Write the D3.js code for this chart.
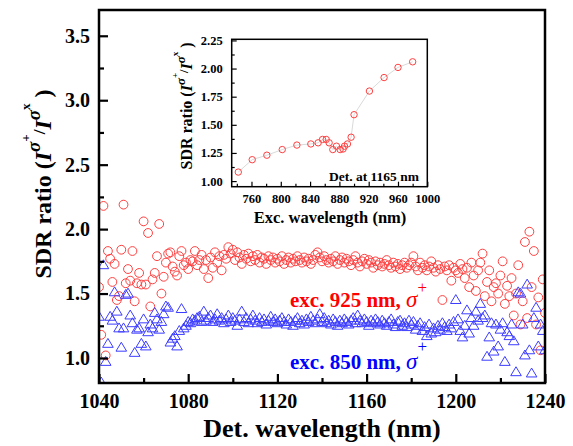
<!DOCTYPE html>
<html>
<head>
<meta charset="utf-8">
<script src="https://cdn.jsdelivr.net/npm/d3@7"></script>
<style>
   body { margin: 0; background: #fff; }
   text { font-family: "Liberation Serif", "Times New Roman", serif; font-weight: bold; }
</style>
</head>
<body>
<div id="chart"></div>
<script>
// detection wavelength (nm) shared by both main series
const detWavelength = [
   1040, 1041, 1042, 1043, 1044, 1045, 1046, 1047, 1048, 1049,
   1050, 1051, 1052, 1053, 1054, 1055, 1056, 1057, 1058, 1059,
   1060, 1061, 1062, 1063, 1064, 1065, 1066, 1067, 1068, 1069,
   1070, 1071, 1072, 1073, 1074, 1075, 1076, 1077, 1078, 1079,
   1080, 1081, 1082, 1083, 1084, 1085, 1086, 1087, 1088, 1089,
   1090, 1091, 1092, 1093, 1094, 1095, 1096, 1097, 1098, 1099,
   1100, 1101, 1102, 1103, 1104, 1105, 1106, 1107, 1108, 1109,
   1110, 1111, 1112, 1113, 1114, 1115, 1116, 1117, 1118, 1119,
   1120, 1121, 1122, 1123, 1124, 1125, 1126, 1127, 1128, 1129,
   1130, 1131, 1132, 1133, 1134, 1135, 1136, 1137, 1138, 1139,
   1140, 1141, 1142, 1143, 1144, 1145, 1146, 1147, 1148, 1149,
   1150, 1151, 1152, 1153, 1154, 1155, 1156, 1157, 1158, 1159,
   1160, 1161, 1162, 1163, 1164, 1165, 1166, 1167, 1168, 1169,
   1170, 1171, 1172, 1173, 1174, 1175, 1176, 1177, 1178, 1179,
   1180, 1181, 1182, 1183, 1184, 1185, 1186, 1187, 1188, 1189,
   1190, 1191, 1192, 1193, 1194, 1195, 1196, 1197, 1198, 1199,
   1200, 1201, 1202, 1203, 1204, 1205, 1206, 1207, 1208, 1209,
   1210, 1211, 1212, 1213, 1214, 1215, 1216, 1217, 1218, 1219,
   1220, 1221, 1222, 1223, 1224, 1225, 1226, 1227, 1228, 1229,
   1230, 1231, 1232, 1233, 1234, 1235, 1236, 1237, 1238, 1239,
   1240
];

// exc. 925 nm, sigma+ (red circles)
const sdr925 = [
   1.55, 1.18, 2.18, 1.02, 1.83, 1.77, 1.59, 1.73, 1.45, 1.48,
   1.84, 2.19, 1.58, 1.69, 1.60, 1.83, 1.44, 1.58, 1.66, 1.57,
   2.06, 1.57, 1.97, 1.40, 1.61, 1.66, 1.79, 2.04, 1.50, 1.63,
   1.74, 1.81, 1.82, 1.71, 1.67, 1.64, 1.79, 1.83, 1.72, 1.74,
   1.69, 1.76, 1.75, 1.83, 1.72, 1.76, 1.80, 1.69, 1.76, 1.62,
   1.78, 1.70, 1.82, 1.74, 1.79, 1.68, 1.80, 1.77, 1.86, 1.81,
   1.84, 1.76, 1.82, 1.78, 1.73, 1.80, 1.77, 1.81, 1.75, 1.79,
   1.76, 1.80, 1.74, 1.78, 1.77, 1.73, 1.79, 1.76, 1.78, 1.74,
   1.77, 1.75, 1.79, 1.73, 1.76, 1.78, 1.74, 1.77, 1.75, 1.79,
   1.76, 1.74, 1.78, 1.75, 1.77, 1.73, 1.76, 1.80, 1.82, 1.78,
   1.75, 1.79, 1.76, 1.74, 1.77, 1.75, 1.79, 1.73, 1.76, 1.78,
   1.74, 1.77, 1.75, 1.72, 1.76, 1.79, 1.74, 1.71, 1.75, 1.77,
   1.73, 1.76, 1.74, 1.70, 1.75, 1.72, 1.74, 1.71, 1.73, 1.76,
   1.72, 1.70, 1.74, 1.71, 1.73, 1.69, 1.72, 1.74, 1.70, 1.72,
   1.74, 1.79, 1.71, 1.68, 1.74, 1.70, 1.72, 1.68, 1.71, 1.75,
   1.70, 1.67, 1.72, 1.69, 1.45, 1.71, 1.68, 1.72, 1.60, 1.70,
   1.68, 1.66, 1.73, 1.69, 1.62, 1.70, 1.55, 1.74, 1.64, 1.52,
   1.68, 1.74, 1.81, 1.48, 1.59, 1.68, 1.44, 1.55, 1.58, 1.50,
   1.64, 1.75, 1.42, 1.56, 1.48, 1.62, 1.33, 1.50, 1.72, 1.26,
   1.44, 1.90, 1.31, 1.98, 1.55, 1.83, 1.26, 1.47, 1.06, 1.61,
   1.35
];

// exc. 850 nm, sigma+ (blue triangles)
const sdr850 = [
   1.32, 0.81, 1.72, 0.97, 1.11, 1.32, 1.29, 1.51, 1.36, 1.23,
   1.08, 1.23, 1.49, 1.50, 1.33, 1.27, 1.04, 1.22, 1.23, 1.11,
   1.30, 1.09, 1.20, 1.26, 1.23, 1.35, 1.30, 1.22, 1.28, 1.34,
   1.40, 1.39, 1.12, 1.15, 1.17, 1.09, 1.21, 1.38, 1.23, 1.25,
   1.28, 1.27, 1.30, 1.29, 1.31, 1.32, 1.28, 1.36, 1.29, 1.31,
   1.33, 1.28, 1.30, 1.34, 1.29, 1.31, 1.27, 1.30, 1.33, 1.28,
   1.31, 1.29, 1.25, 1.30, 1.36, 1.28, 1.31, 1.27, 1.30, 1.33,
   1.29, 1.27, 1.31, 1.28, 1.30, 1.26, 1.29, 1.32, 1.28, 1.30,
   1.27, 1.29, 1.31, 1.28, 1.26, 1.30, 1.28, 1.25, 1.29, 1.31,
   1.27, 1.29, 1.26, 1.30, 1.28, 1.32, 1.29, 1.27, 1.30, 1.34,
   1.28, 1.31, 1.27, 1.29, 1.26, 1.30, 1.28, 1.25, 1.29, 1.27,
   1.30, 1.28, 1.26, 1.29, 1.31, 1.27, 1.33, 1.29, 1.27, 1.30,
   1.28, 1.25, 1.29, 1.27, 1.30, 1.28, 1.26, 1.29, 1.27, 1.25,
   1.28, 1.30, 1.26, 1.24, 1.28, 1.29, 1.25, 1.27, 1.24, 1.29,
   1.26, 1.28, 1.22, 1.25, 1.27, 1.21, 1.24, 1.17, 1.26, 1.19,
   1.23, 1.20, 1.25, 1.22, 1.27, 1.24, 1.21, 1.26, 1.23, 1.28,
   1.45, 1.30, 1.21, 1.16, 1.25, 1.37, 1.19, 1.31, 1.25, 1.36,
   1.29, 1.42, 1.31, 1.33, 1.01, 1.16, 1.27, 1.05, 1.26, 1.09,
   1.22, 1.27, 0.97, 1.20, 1.17, 1.26, 1.13, 0.89, 1.51, 1.50,
   1.26, 1.02, 1.57, 1.06, 0.88, 1.31, 1.39, 1.09, 1.26, 1.21,
   1.06
];

// inset: detection fixed at 1165 nm
const excWavelength = [742, 761, 781, 802, 822, 841, 851, 857, 862, 866, 871, 876, 881, 885, 887, 891, 896, 900, 921, 941, 960, 980];
const sdrAt1165 = [1.08, 1.19, 1.23, 1.28, 1.32, 1.33, 1.34, 1.37, 1.37, 1.34, 1.28, 1.31, 1.28, 1.285, 1.31, 1.33, 1.39, 1.59, 1.80, 1.92, 2.01, 2.06];

const detTicks = [1040, 1080, 1120, 1160, 1200, 1240];
const detMinor = [1060, 1100, 1140, 1180, 1220];
const sdrTicks = [1.0, 1.5, 2.0, 2.5, 3.0, 3.5];
const sdrMinor = [1.25, 1.75, 2.25, 2.75, 3.25];
const excTicks = [760, 800, 840, 880, 920, 960, 1000];
const excMinor = [740, 780, 820, 860, 900, 940, 980];
const insetTicks = [1.00, 1.25, 1.50, 1.75, 2.00, 2.25];
const insetMinor = [1.125, 1.375, 1.625, 1.875, 2.125];

const red = "#ff4040";
const blue = "#3c3cff";

let svg = d3.select("#chart").append("svg")
   .attr("width", 573)
   .attr("height", 446);

// rich text: parts carry absolute baseline shift, converted to dy steps
function richText(sel, parts) {
   let prev = 0;
   parts.forEach(p => {
      let shift = p.shift || 0;
      sel.append("tspan")
         .attr("dy", shift - prev)
         .attr("font-size", p.size)
         .attr("font-style", p.italic ? "italic" : null)
         .attr("font-weight", p.normal ? "normal" : null)
         .text(p.t);
      prev = shift;
   });
}

// ---------- main plot ----------
let x = d3.scaleLinear().domain([1040, 1240]).range([99, 545]);
let y = d3.scaleLinear().domain([0.806, 3.70]).range([383, 10]);

svg.append("defs").append("clipPath")
   .attr("id", "plotclip")
 .append("rect")
   .attr("x", 99).attr("y", 10)
   .attr("width", 446).attr("height", 373);

let pts = svg.append("g").attr("clip-path", "url(#plotclip)");

pts.selectAll(".c925")
   .data(detWavelength.map((w, i) => [w, sdr925[i]]))
 .enter().append("circle")
   .attr("class", "c925")
   .attr("cx", d => x(d[0]))
   .attr("cy", d => y(d[1]))
   .attr("r", 4.4)
   .attr("fill", "none")
   .attr("stroke", red)
   .attr("stroke-width", 1);

pts.selectAll(".t850")
   .data(detWavelength.map((w, i) => [w, sdr850[i]]))
 .enter().append("path")
   .attr("class", "t850")
   .attr("d", "M0,-5.4L5.3,3.5L-5.3,3.5Z")
   .attr("transform", d => "translate(" + x(d[0]) + "," + y(d[1]) + ")")
   .attr("fill", "none")
   .attr("stroke", blue)
   .attr("stroke-width", 1);

let xAxis = svg.append("g")
   .attr("transform", "translate(0,383)")
   .call(d3.axisBottom(x).tickValues(detTicks).tickSize(-9).tickPadding(11).tickFormat(d3.format("d")));
svg.append("g")
   .attr("transform", "translate(0,383)")
   .call(d3.axisBottom(x).tickValues(detMinor).tickSize(-5).tickFormat(""));

let yAxis = svg.append("g")
   .attr("transform", "translate(99,0)")
   .call(d3.axisLeft(y).tickValues(sdrTicks).tickSize(-9).tickPadding(9).tickFormat(d3.format(".1f")));
svg.append("g")
   .attr("transform", "translate(99,0)")
   .call(d3.axisLeft(y).tickValues(sdrMinor).tickSize(-5).tickFormat(""));

svg.selectAll(".domain").remove();
svg.selectAll(".tick line").attr("stroke", "#000").attr("stroke-width", 2.2);
xAxis.selectAll("text").attr("font-size", 20).attr("font-family", null).attr("fill", "#000");
yAxis.selectAll("text").attr("font-size", 20).attr("font-family", null).attr("fill", "#000");

svg.append("rect")
   .attr("x", 99).attr("y", 10)
   .attr("width", 446).attr("height", 373)
   .attr("fill", "none")
   .attr("stroke", "#000")
   .attr("stroke-width", 2.5);

svg.append("text")
   .attr("x", 322).attr("y", 437)
   .attr("text-anchor", "middle")
   .attr("font-size", 26)
   .text("Det. wavelength (nm)");

let ylab = svg.append("text")
   .attr("transform", "translate(51,184) rotate(-90)")
   .attr("text-anchor", "middle");
richText(ylab, [
   {t: "SDR ratio (", size: 24},
   {t: "I", size: 24, italic: true},
   {t: "σ", size: 19, italic: true, shift: -11},
   {t: "+", size: 13, shift: -21},
   {t: "/", size: 17, shift: -6},
   {t: "I", size: 24, italic: true},
   {t: "σ", size: 19, italic: true, shift: -11},
   {t: "x", size: 13, shift: -21},
   {t: " )", size: 24}
]);

// legends
let l925 = svg.append("text")
   .attr("x", 290).attr("y", 307)
   .attr("fill", "#ff0000")
   .attr("font-size", 21);
richText(l925, [
   {t: "exc. 925 nm, ", size: 21},
   {t: "σ", size: 23, italic: true, normal: true},
   {t: "+", size: 17, normal: true, shift: -14}
]);

let l850 = svg.append("text")
   .attr("x", 290).attr("y", 369)
   .attr("fill", "#0000ff")
   .attr("font-size", 21);
richText(l850, [
   {t: "exc. 850 nm, ", size: 21},
   {t: "σ", size: 23, italic: true, normal: true},
   {t: "+", size: 17, normal: true, shift: -17}
]);

// ---------- inset ----------
let ix = d3.scaleLinear().domain([733, 1000]).range([231.7, 427.3]);
let iy = d3.scaleLinear().domain([0.95, 2.26]).range([186.7, 39.3]);

svg.append("rect")
   .attr("x", 231.7).attr("y", 39.3)
   .attr("width", 195.6).attr("height", 147.4)
   .attr("fill", "#fff");

let insetData = excWavelength.map((w, i) => [w, sdrAt1165[i]]);

svg.append("path")
   .datum(insetData)
   .attr("fill", "none")
   .attr("stroke", "#cfcfcf")
   .attr("stroke-width", 0.8)
   .attr("d", d3.line().x(d => ix(d[0])).y(d => iy(d[1])));

svg.selectAll(".inpt")
   .data(insetData)
 .enter().append("circle")
   .attr("class", "inpt")
   .attr("cx", d => ix(d[0]))
   .attr("cy", d => iy(d[1]))
   .attr("r", 3.2)
   .attr("fill", "none")
   .attr("stroke", red)
   .attr("stroke-width", 1);

let ixAxis = svg.append("g")
   .attr("transform", "translate(0,186.7)")
   .call(d3.axisBottom(ix).tickValues(excTicks).tickSize(-5).tickPadding(7).tickFormat(d3.format("d")));
let ixMinor = svg.append("g")
   .attr("transform", "translate(0,186.7)")
   .call(d3.axisBottom(ix).tickValues(excMinor).tickSize(-3).tickFormat(""));
let iyAxis = svg.append("g")
   .attr("transform", "translate(231.7,0)")
   .call(d3.axisLeft(iy).tickValues(insetTicks).tickSize(-5).tickPadding(9).tickFormat(d3.format(".2f")));
let iyMinor = svg.append("g")
   .attr("transform", "translate(231.7,0)")
   .call(d3.axisLeft(iy).tickValues(insetMinor).tickSize(-3).tickFormat(""));

[ixAxis, ixMinor, iyAxis, iyMinor].forEach(g => {
   g.select(".domain").remove();
   g.selectAll(".tick line").attr("stroke", "#000").attr("stroke-width", 1.2);
   g.selectAll("text").attr("font-size", 12.5).attr("font-family", null).attr("fill", "#000");
});

svg.append("rect")
   .attr("x", 231.7).attr("y", 39.3)
   .attr("width", 195.6).attr("height", 147.4)
   .attr("fill", "none")
   .attr("stroke", "#000")
   .attr("stroke-width", 1.5);

svg.append("text")
   .attr("x", 419).attr("y", 181)
   .attr("text-anchor", "end")
   .attr("font-size", 13.5)
   .text("Det. at 1165 nm");

svg.append("text")
   .attr("x", 330).attr("y", 223)
   .attr("text-anchor", "middle")
   .attr("font-size", 16.5)
   .text("Exc. wavelength (nm)");

let iylab = svg.append("text")
   .attr("transform", "translate(192,106) rotate(-90)")
   .attr("text-anchor", "middle");
richText(iylab, [
   {t: "SDR ratio (", size: 16},
   {t: "I", size: 16, italic: true},
   {t: "σ", size: 13, italic: true, shift: -7},
   {t: "+", size: 9, shift: -14},
   {t: "/", size: 12, shift: -4},
   {t: "I", size: 16, italic: true},
   {t: "σ", size: 13, italic: true, shift: -7},
   {t: "x", size: 9, shift: -14},
   {t: " )", size: 16}
]);
</script>
</body>
</html>
